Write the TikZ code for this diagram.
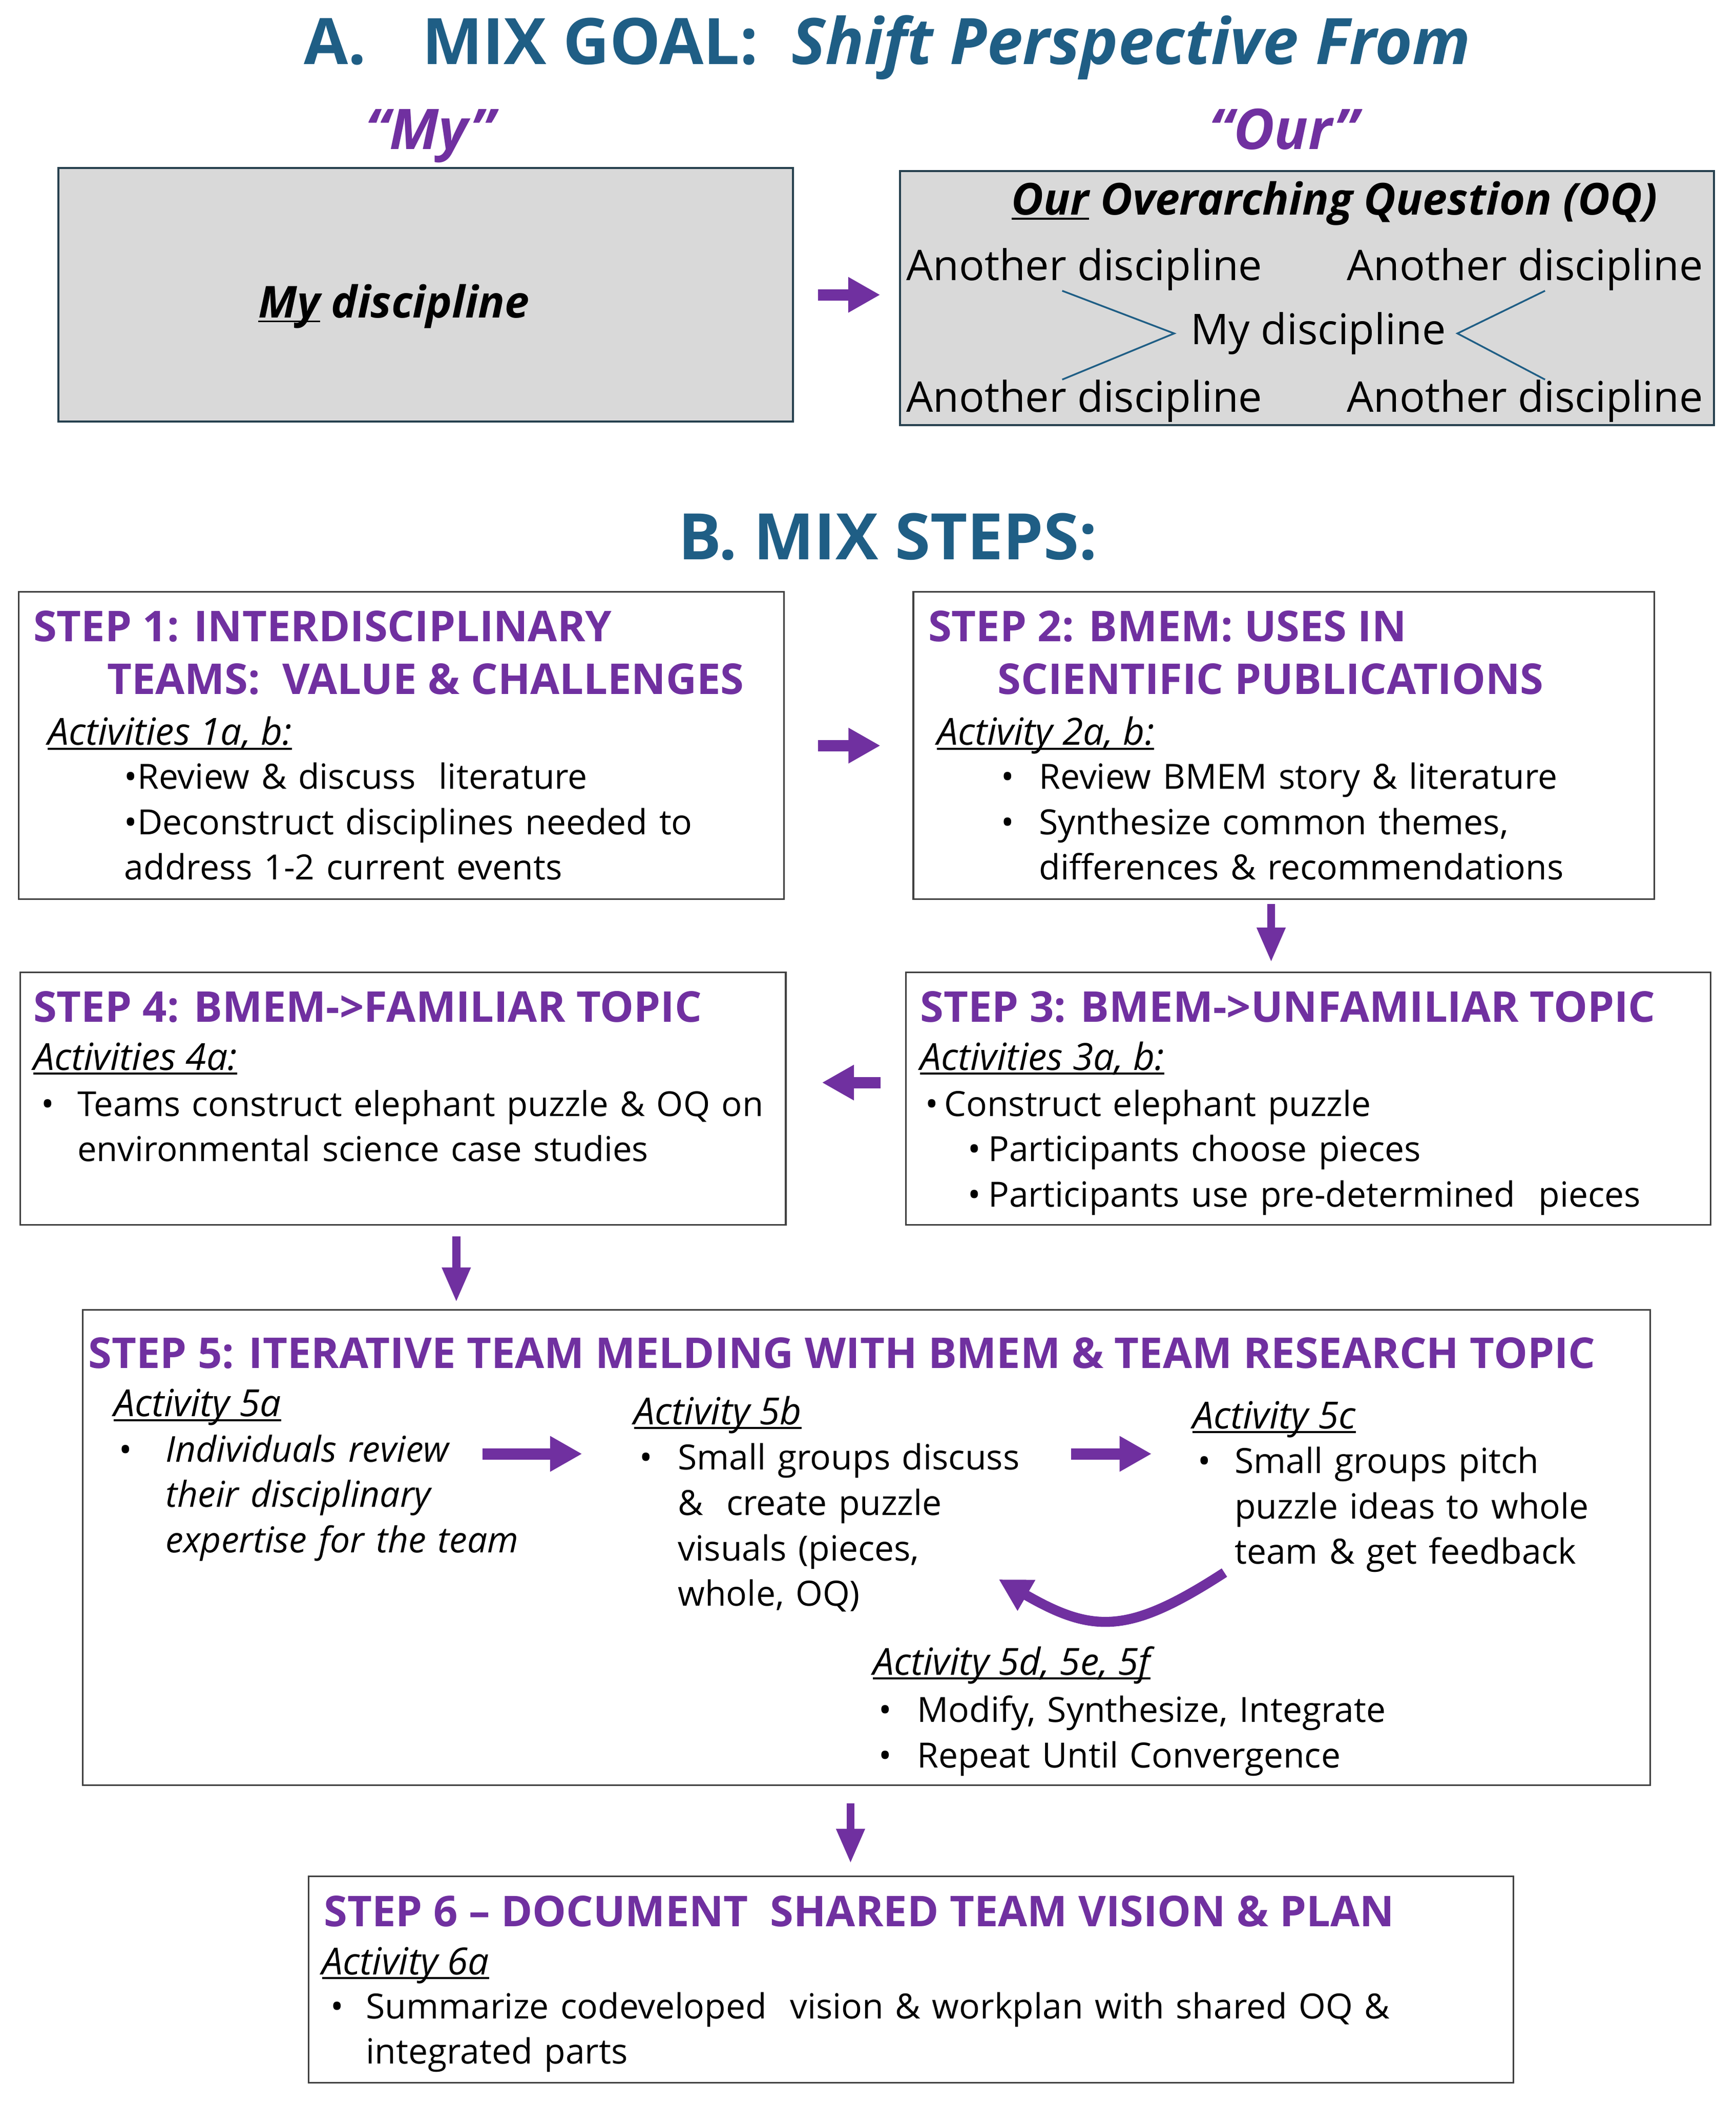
\documentclass[tikz,border=0pt]{standalone}
\usepackage{fontspec}
\setmainfont{Open Sans}
\usepackage{xcolor}
\usepackage{tikz}
\usetikzlibrary{shapes,arrows,arrows.meta}
\definecolor{mixteal}{HTML}{1F5E85}
\definecolor{mixpurple}{HTML}{7030A0}
\definecolor{goalgray}{HTML}{D9D9D9}
\definecolor{goaledge}{HTML}{27414F}
\definecolor{stepedge}{HTML}{404040}
\newcommand{\ulabel}[1]{\setbox0\hbox{#1}\rlap{\rule[-3.5pt]{\wd0}{1.5pt}}\box0\relax}
\newcommand{\bodyfont}{\fontsize{26}{34}\selectfont}
\tikzstyle{goalbox} = [rectangle, draw=goaledge, fill=goalgray, line width=1.5pt]
\tikzstyle{stepbox} = [rectangle, draw=stepedge, line width=1.2pt]
\tikzstyle{txt} = [anchor=base west, inner sep=0pt, text width=800pt, align=left, font=\bodyfont]
\tikzstyle{bul} = [anchor=base west, inner sep=0pt, font=\bodyfont]
\tikzstyle{act} = [anchor=base west, inner sep=0pt, font=\fontsize{28}{34}\selectfont\itshape]
\tikzstyle{heading} = [anchor=base west, inner sep=0pt, text=mixpurple, font=\fontsize{31.8}{40}\selectfont\bfseries]
\tikzstyle{headline} = [anchor=base, inner sep=0pt, text=mixteal, font=\fontsize{48}{56}\selectfont\bfseries]
\tikzstyle{disc} = [anchor=base west, inner sep=0pt, font=\fontsize{31.7}{38}\selectfont]
\tikzstyle{fatarrow} = [draw=mixpurple, line width=8.5pt, -{Triangle[length=24pt,width=25pt]}]
\tikzstyle{downarrow} = [draw=mixpurple, line width=6pt, -{Triangle[length=26pt,width=20pt]}]
\tikzstyle{link} = [draw=mixteal, line width=1.3pt]

\begin{document}
\begin{tikzpicture}[x=1pt, y=-1pt]
			\useasboundingbox (0,0) rectangle (1300,1576);
			% A. goal
			\node [headline] (goaltitle) at (664.5,48) {A.\hspace{42pt}MIX GOAL:\ \ \textit{Shift Perspective From}};
			\node [headline, text=mixpurple, font=\fontsize{42}{48}\selectfont\bfseries\itshape] (my) at (322,112) {“My”};
			\node [headline, text=mixpurple, font=\fontsize{42}{48}\selectfont\bfseries\itshape] (our) at (961.5,112) {“Our”};
			\node [goalbox, minimum width=550.3, minimum height=189.7] (mybox) at (318.85,220.85) {};
			\node [goalbox, minimum width=609.5, minimum height=190.1] (ourbox) at (978.75,223.25) {};
			\node [anchor=base, inner sep=0pt, font=\fontsize{33}{38}\selectfont\bfseries\itshape] (mydisc) at (295,238) {\ulabel{My} discipline};
			\node [anchor=base, inner sep=0pt, font=\fontsize{33}{38}\selectfont\bfseries\itshape] (oq) at (999.5,161) {\ulabel{Our} Overarching Question (OQ)};
			\node [disc] (discTL) at (678.5,210) {Another discipline};
			\node [disc] (discTR) at (1008.6,210) {Another discipline};
			\node [disc] (discBL) at (678.5,308.6) {Another discipline};
			\node [disc] (discBR) at (1008.6,308.6) {Another discipline};
			\node [disc] (ourdisc) at (891.4,258) {My discipline};

			% B. steps
			\node [headline] (stepstitle) at (665,419) {B. MIX STEPS:};
			\node [stepbox, minimum width=573, minimum height=230.2] (step1) at (300.5,558.5) {};
			\node [stepbox, minimum width=555, minimum height=230.2] (step2) at (961.5,558.5) {};
			\node [stepbox, minimum width=602.5, minimum height=189] (step3) at (979.75,822.9) {};
			\node [stepbox, minimum width=573.5, minimum height=189] (step4) at (301.75,822.9) {};
			\node [stepbox, minimum width=1174, minimum height=356] (step5) at (649,1159) {};
			\node [stepbox, minimum width=902.5, minimum height=154.6] (step6) at (682.25,1482.7) {};

			% step 1
			\node [heading] (head1a) at (24.8,480.5) {STEP 1: INTERDISCIPLINARY};
			\node [heading] (head1b) at (80,520) {TEAMS:\ \ VALUE \& CHALLENGES};
			\node [act] (act1) at (35.5,558) {\ulabel{Activities 1a, b:}};
			\node [txt] (txt1) at (93,591) {•Review \& discuss\ \ literature\\•Deconstruct disciplines needed to\\address 1-2 current events};
			% step 2
			\node [heading] (head2a) at (695,480.5) {STEP 2: BMEM: USES IN};
			\node [heading] (head2b) at (747,520) {SCIENTIFIC PUBLICATIONS};
			\node [act] (act2) at (701.6,558) {\ulabel{Activity 2a, b:}};
			\node [bul] (bul2a) at (749.5,591) {•};
			\node [bul] (bul2b) at (749.5,625) {•};
			\node [txt] (txt2) at (778,591) {Review BMEM story \& literature\\Synthesize common themes,\\differences \& recommendations};
			% step 3
			\node [heading] (head3) at (689,765.5) {STEP 3: BMEM->UNFAMILIAR TOPIC};
			\node [act] (act3) at (689,801.5) {\ulabel{Activities 3a, b:}};
			\node [bul] (bul3a) at (693,836) {•};
			\node [txt] (txt3a) at (707,836) {Construct elephant puzzle};
			\node [bul] (bul3b) at (724.7,870) {•};
			\node [bul] (bul3c) at (724.7,904) {•};
			\node [txt] (txt3b) at (740,870) {Participants choose pieces\\Participants use pre-determined\ \ pieces};
			% step 4
			\node [heading] (head4) at (24.8,765.5) {STEP 4: BMEM->FAMILIAR TOPIC};
			\node [act] (act4) at (24.8,801.5) {\ulabel{Activities 4a:}};
			\node [bul] (bul4) at (30.5,836) {•};
			\node [txt, font=\fontsize{25.7}{34}\selectfont] (txt4) at (57.8,836) {Teams construct elephant puzzle \& OQ on\\environmental science case studies};
			% step 5
			\node [heading] (head5) at (66,1025) {STEP 5: ITERATIVE TEAM MELDING WITH BMEM \& TEAM RESEARCH TOPIC};
			\node [act] (act5a) at (85,1061) {\ulabel{Activity 5a}};
			\node [bul] (bul5a) at (89,1095) {•};
			\node [txt, font=\fontsize{26.7}{34}\selectfont\itshape] (txt5a) at (124,1095) {Individuals review\\their disciplinary\\expertise for the team};
			\node [act] (act5b) at (474.6,1067) {\ulabel{Activity 5b}};
			\node [bul] (bul5b) at (478.7,1101) {•};
			\node [txt] (txt5b) at (507.6,1101) {Small groups discuss\\\&\ \ create puzzle\\visuals (pieces,\\whole, OQ)};
			\node [act] (act5c) at (893,1070) {\ulabel{Activity 5c}};
			\node [bul] (bul5c) at (897,1103.5) {•};
			\node [txt] (txt5c) at (924.5,1103.5) {Small groups pitch\\puzzle ideas to whole\\team \& get feedback};
			\node [act] (act5d) at (653.7,1254.5) {\ulabel{Activity 5d, 5e, 5f}};
			\node [bul] (bul5d) at (658,1290) {•};
			\node [bul] (bul5e) at (658,1324) {•};
			\node [txt] (txt5d) at (686.7,1290) {Modify, Synthesize, Integrate\\Repeat Until Convergence};
			% step 6
			\node [heading] (head6) at (242.5,1443) {STEP 6 – DOCUMENT\ \ SHARED TEAM VISION \& PLAN};
			\node [act] (act6) at (241,1479) {\ulabel{Activity 6a}};
			\node [bul] (bul6) at (247.5,1512) {•};
			\node [txt] (txt6) at (274,1512) {Summarize codeveloped\ \ vision \& workplan with shared OQ \&\\integrated parts};

			\coordinate (push5a) at (361.5,1089);
			\coordinate (pull5b) at (436,1089);
			\coordinate (push5b) at (802,1089);
			\coordinate (pull5c) at (862.5,1089);
			\coordinate (loopend) at (748,1183);

			% Draw edges
			\path [link] ([xshift=-16.5pt]discTL.south) -- ([xshift=-12pt]ourdisc.west) -- ([xshift=-16.5pt]discBL.north);
			\path [link] ([xshift=15pt]discTR.south) -- ([xshift=8.5pt]ourdisc.east) -- ([xshift=15pt]discBR.north);
			\path [fatarrow, shorten <=18pt, shorten >=14pt] (mybox.east) -- (mybox.east -| ourbox.west);

			\path [fatarrow, shorten <=25pt, shorten >=24pt] (step1) -- (step2);
			\path [downarrow, shorten <=3pt, shorten >=7pt] ([xshift=-9.5pt]step2.south) -- ([xshift=-9.5pt]step2.south |- step3.north);
			\path [fatarrow, shorten <=18.5pt, shorten >=26.5pt] ([yshift=12pt]step3.west) -- ([yshift=12pt]step3.west -| step4.east);
			\path [downarrow, shorten <=8pt, shorten >=5pt] ([xshift=40pt]step4.south) -- ([xshift=40pt]step4.south |- step5.north);
			\path [downarrow, shorten <=13pt, shorten >=9pt] ([xshift=-12pt]step5.south) -- ([xshift=-12pt]step5.south |- step6.north);

			\path [fatarrow] (push5a) -- (pull5b);
			\path [fatarrow] (push5b) -- (pull5c);
			\path [fatarrow, line width=7.5pt] ([xshift=-7.5pt]txt5c.south west) .. controls (846,1224) and (819,1224) .. (loopend);
%
\end{tikzpicture}
\end{document}
